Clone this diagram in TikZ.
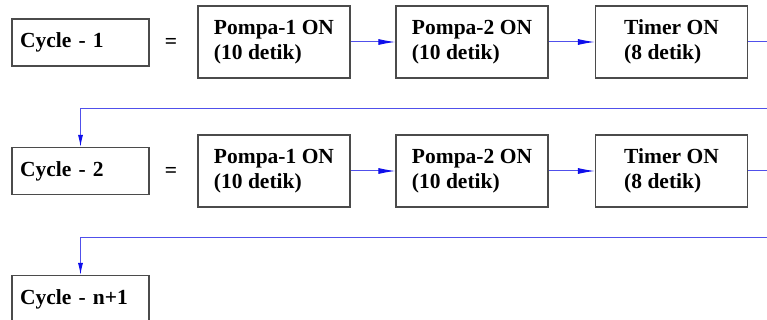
\documentclass[tikz,border=0pt]{standalone}
\usepackage{fontspec}
\setmainfont{Liberation Serif}
\usetikzlibrary{arrows.meta}
\definecolor{flowblue}{RGB}{80,80,235}
\definecolor{tipblue}{RGB}{15,15,235}
\definecolor{boxgray}{RGB}{75,75,75}
\begin{document}
\begin{tikzpicture}[x=1pt,y=-1pt,
  txt/.style={font=\fontsize{21.5}{25}\selectfont\bfseries},
  stepbox/.style={txt,draw=boxgray,line width=1.1pt,minimum width=152pt,
    minimum height=72pt,align=left,inner sep=0pt},
  cyclebox/.style={txt,draw=boxgray,line width=1.1pt,text width=121pt,
    inner xsep=8pt,inner ysep=0pt,minimum height=47pt,align=left},
  eqsign/.style={txt,inner sep=0pt},
  flow/.style={draw=flowblue,line width=1pt,
    -{Latex[length=17pt,width=6pt,color=tipblue]}},
  back/.style={draw=flowblue,line width=1pt,
    -{Latex[length=12pt,width=5pt,color=tipblue]}}]
\clip (0,0) rectangle (767,320);

% first cycle
\node[cyclebox] (c1) at (80.5,42.5) {Cycle - 1};
\node[eqsign] (e1) at (171,43) {=};
\node[stepbox] (a1) at (274,42) {Pompa-1 ON\\(10 detik)};
\node[stepbox] (b1) at (472,42) {Pompa-2 ON\\(10 detik)};
\node[stepbox] (t1) at (671.5,42) {Timer ON\\(8 detik)};

% second cycle
\node[cyclebox] (c2) at (80.5,171) {Cycle - 2};
\node[eqsign] (e2) at (171,172) {=};
\node[stepbox] (a2) at (274,171) {Pompa-1 ON\\(10 detik)};
\node[stepbox] (b2) at (472,171) {Pompa-2 ON\\(10 detik)};
\node[stepbox] (t2) at (671.5,171) {Timer ON\\(8 detik)};

% last cycle
\node[cyclebox] (cn) at (80.5,299) {Cycle - n+1};

% return paths past the right edge
\coordinate (r1) at (790,42);
\coordinate (r1b) at (790,108.5);
\coordinate (r2) at (790,171);
\coordinate (r2b) at (790,237);

\draw[flow] (a1) -- (b1);
\draw[flow] (b1) -- (t1);
\draw[back] (t1) -- (r1) -- (r1b) -| (c2);

\draw[flow] (a2) -- (b2);
\draw[flow] (b2) -- (t2);
\draw[back] (t2) -- (r2) -- (r2b) -| (cn);
\end{tikzpicture}
\end{document}
